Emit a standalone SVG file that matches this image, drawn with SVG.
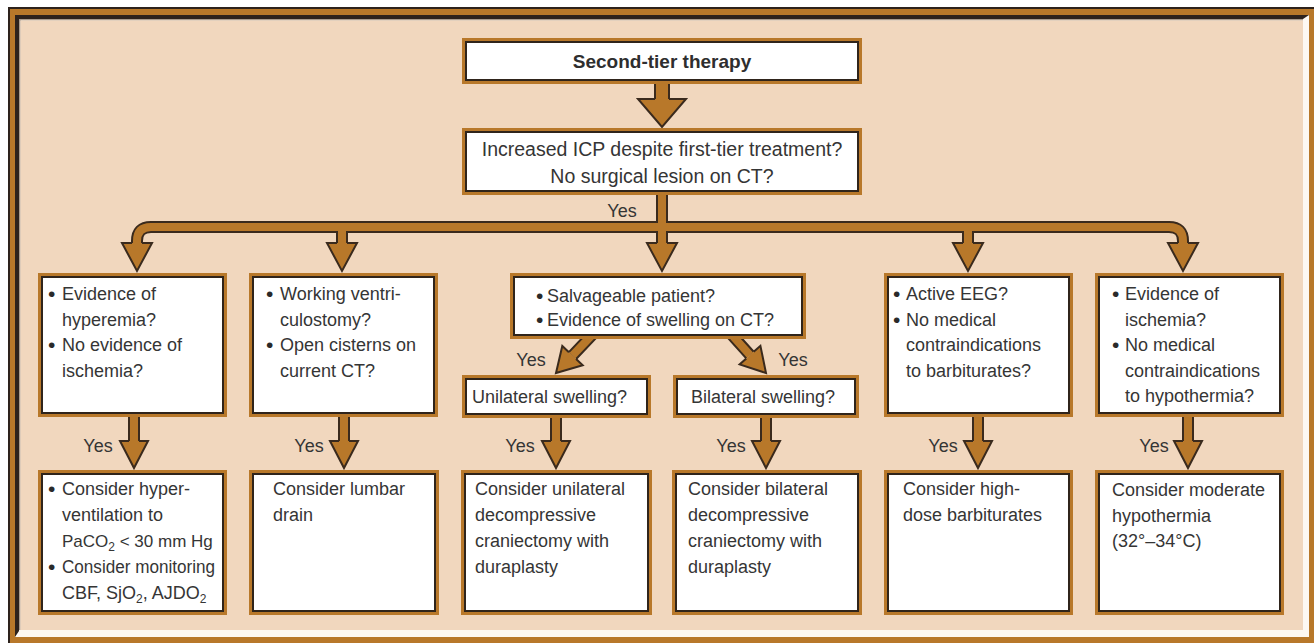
<svg xmlns="http://www.w3.org/2000/svg" width="1314" height="643" viewBox="0 0 1314 643">
<defs>
<style>
.sd{fill:none;stroke:#3a2a1d;stroke-width:12}
.so{fill:none;stroke:#b8782a;stroke-width:8}
.bd{fill:none;stroke:#3a2a1d;stroke-width:16}
.bo2{fill:none;stroke:#b8782a;stroke-width:12}
.hd{fill:#b8782a;stroke:#3a2a1d;stroke-width:2;stroke-linejoin:miter}
.bo{fill:#b8782a}
.bi{fill:#ffffff;stroke:#2f241b;stroke-width:2}
.t{font-family:"Liberation Sans",Arial,sans-serif;font-size:18px;fill:#353535}
.bu{font-family:"Liberation Sans",Arial,sans-serif;font-size:21px;fill:#2a2a2a}
.tb{font-family:"Liberation Sans",Arial,sans-serif;font-size:19px;font-weight:bold;fill:#2e2e2e}
.c{text-anchor:middle}
</style>
</defs>
<!-- frame -->
<rect x="8" y="7" width="1306" height="636" fill="#2d221c"/>
<rect x="10" y="9" width="1304" height="634" fill="#b8782a"/>
<rect x="15" y="15" width="1294" height="622" fill="#fdf8f2"/>
<path d="M15,15 H1309 L1303,19 H19 V631 L15,637 Z" fill="#2d221c"/>
<path d="M19,19.8 H1303 M19.8,19 V630" stroke="#a89a8c" stroke-width="1.6" fill="none"/>
<rect x="20.5" y="20.5" width="1282.5" height="609.5" fill="#f1d7be"/>

<g id="connectors">
<path class="bd" d="M662,80 V100"/>
<path class="bo2" d="M662,80 V100"/>
<path class="hd" d="M655,99 H638 L662,127 L686,99 H669"/>

<path class="sd" d="M137,244 V241 Q137,227 151,227 H1169 Q1183,227 1183,241 V244 M342,227 V244 M662,192 V244 M968,227 V244"/>
<path class="so" d="M137,244 V241 Q137,227 151,227 H1169 Q1183,227 1183,241 V244 M342,227 V244 M662,192 V244 M968,227 V244"/>
<path class="hd" d="M132,243 H122 L137,271 L152,243 H142"/>
<path class="hd" d="M337,243 H327 L342,271 L357,243 H347"/>
<path class="hd" d="M657,243 H647 L662,271 L677,243 H667"/>
<path class="hd" d="M963,243 H953 L968,271 L983,243 H973"/>
<path class="hd" d="M1178,243 H1168 L1183,271 L1198,243 H1188"/>

<path class="sd" d="M595.9,330.9 L572.5,355.6 M727.3,329.8 L750,355.1"/>
<path class="so" d="M595.9,330.9 L572.5,355.6 M727.3,329.8 L750,355.1"/>
<path class="hd" d="M568.9,352.2 L562.3,346 L556,373 L582.7,365.2 L576.1,359"/>
<path class="hd" d="M746.3,358.4 L739.6,364.4 L766,373 L760.4,345.8 L753.7,351.8"/>

<path class="sd" d="M134,410 V442 M344,410 V442 M556,412 V442 M766,412 V442 M978,410 V442 M1188,410 V442"/>
<path class="so" d="M134,410 V442 M344,410 V442 M556,412 V442 M766,412 V442 M978,410 V442 M1188,410 V442"/>
<path class="hd" d="M129,441 H120 L134,468 L148,441 H139"/>
<path class="hd" d="M339,441 H330 L344,468 L358,441 H349"/>
<path class="hd" d="M551,441 H542 L556,468 L570,441 H561"/>
<path class="hd" d="M761,441 H752 L766,468 L780,441 H771"/>
<path class="hd" d="M973,441 H964 L978,468 L992,441 H983"/>
<path class="hd" d="M1183,441 H1174 L1188,468 L1202,441 H1193"/>

<text class="t c" x="622" y="217">Yes</text>
<text class="t c" x="531" y="366">Yes</text>
<text class="t c" x="793" y="366">Yes</text>
<text class="t c" x="98" y="452">Yes</text>
<text class="t c" x="309" y="452">Yes</text>
<text class="t c" x="520" y="452">Yes</text>
<text class="t c" x="731" y="452">Yes</text>
<text class="t c" x="943" y="452">Yes</text>
<text class="t c" x="1154" y="452">Yes</text>
</g>

<g id="n-top">
<rect class="bo" x="462" y="38" width="400" height="46"/>
<rect class="bi" x="466" y="42" width="392" height="38"/>
<text class="tb c" x="662" y="68">Second-tier therapy</text>
</g>

<g id="n-q1">
<rect class="bo" x="462" y="128" width="400" height="67"/>
<rect class="bi" x="466" y="132" width="392" height="59"/>
<text class="t c" x="662" y="156" style="font-size:19.5px">Increased ICP despite first-tier treatment?</text>
<text class="t c" x="662" y="183" style="font-size:19.5px">No surgical lesion on CT?</text>
</g>

<g id="n-hyperemia">
<rect class="bo" x="38" y="273" width="189" height="144"/>
<rect class="bi" x="42" y="277" width="181" height="136"/>
<text class="bu" x="48" y="301">•</text>
<text class="t" x="62" y="300">Evidence of</text>
<text class="t" x="62" y="325.5">hyperemia?</text>
<text class="bu" x="48" y="352">•</text>
<text class="t" x="62" y="351">No evidence of</text>
<text class="t" x="62" y="376.5">ischemia?</text>
</g>

<g id="n-ventric">
<rect class="bo" x="249" y="273" width="189" height="144"/>
<rect class="bi" x="253" y="277" width="181" height="136"/>
<text class="bu" x="266" y="301">•</text>
<text class="t" x="280" y="300">Working ventri-</text>
<text class="t" x="280" y="325.5">culostomy?</text>
<text class="bu" x="266" y="352">•</text>
<text class="t" x="280" y="351">Open cisterns on</text>
<text class="t" x="280" y="376.5">current CT?</text>
</g>

<g id="n-salvage">
<rect class="bo" x="510" y="273" width="296" height="66"/>
<rect class="bi" x="514" y="277" width="288" height="58"/>
<text class="bu" x="536" y="303">•</text>
<text class="t" x="547" y="302">Salvageable patient?</text>
<text class="bu" x="536" y="327">•</text>
<text class="t" x="547" y="326">Evidence of swelling on CT?</text>
</g>

<g id="n-unilateral">
<rect class="bo" x="462" y="375" width="189" height="43"/>
<rect class="bi" x="466" y="379" width="181" height="35"/>
<text class="t" x="472" y="403">Unilateral swelling?</text>
</g>

<g id="n-bilateral">
<rect class="bo" x="673" y="375" width="186" height="43"/>
<rect class="bi" x="677" y="379" width="178" height="35"/>
<text class="t" x="691" y="403">Bilateral swelling?</text>
</g>

<g id="n-eeg">
<rect class="bo" x="884" y="273" width="189" height="144"/>
<rect class="bi" x="888" y="277" width="181" height="136"/>
<text class="bu" x="893" y="301">•</text>
<text class="t" x="906" y="300">Active EEG?</text>
<text class="bu" x="893" y="326.5">•</text>
<text class="t" x="906" y="325.5">No medical</text>
<text class="t" x="906" y="351">contraindications</text>
<text class="t" x="906" y="376.5">to barbiturates?</text>
</g>

<g id="n-ischemia">
<rect class="bo" x="1095" y="273" width="189" height="144"/>
<rect class="bi" x="1099" y="277" width="181" height="136"/>
<text class="bu" x="1112" y="301">•</text>
<text class="t" x="1125" y="300">Evidence of</text>
<text class="t" x="1125" y="325.5">ischemia?</text>
<text class="bu" x="1112" y="352">•</text>
<text class="t" x="1125" y="351">No medical</text>
<text class="t" x="1125" y="376.5">contraindications</text>
<text class="t" x="1125" y="402">to hypothermia?</text>
</g>

<g id="n-hyperventilation">
<rect class="bo" x="38" y="470" width="189" height="145"/>
<rect class="bi" x="42" y="474" width="181" height="137"/>
<text class="bu" x="48" y="496">•</text>
<text class="t" x="62" y="495">Consider hyper-</text>
<text class="t" x="62" y="521">ventilation to</text>
<text class="t" x="62" y="547" style="font-size:17px">PaCO<tspan font-size="12" dy="4">2</tspan><tspan dy="-4"> &lt; 30 mm Hg</tspan></text>
<text class="bu" x="48" y="574">•</text>
<text class="t" x="62" y="573" textLength="153" lengthAdjust="spacingAndGlyphs">Consider monitoring</text>
<text class="t" x="62" y="599">CBF, SjO<tspan font-size="12" dy="4">2</tspan><tspan dy="-4">, AJDO</tspan><tspan font-size="12" dy="4">2</tspan></text>
</g>

<g id="n-lumbar">
<rect class="bo" x="249" y="470" width="190" height="145"/>
<rect class="bi" x="253" y="474" width="182" height="137"/>
<text class="t" x="273" y="495">Consider lumbar</text>
<text class="t" x="273" y="521">drain</text>
</g>

<g id="n-uni-crani">
<rect class="bo" x="461" y="470" width="191" height="145"/>
<rect class="bi" x="465" y="474" width="183" height="137"/>
<text class="t" x="475" y="495">Consider unilateral</text>
<text class="t" x="475" y="521">decompressive</text>
<text class="t" x="475" y="547">craniectomy with</text>
<text class="t" x="475" y="573">duraplasty</text>
</g>

<g id="n-bi-crani">
<rect class="bo" x="672" y="470" width="190" height="145"/>
<rect class="bi" x="676" y="474" width="182" height="137"/>
<text class="t" x="688" y="495">Consider bilateral</text>
<text class="t" x="688" y="521">decompressive</text>
<text class="t" x="688" y="547">craniectomy with</text>
<text class="t" x="688" y="573">duraplasty</text>
</g>

<g id="n-barbiturates">
<rect class="bo" x="884" y="470" width="189" height="145"/>
<rect class="bi" x="888" y="474" width="181" height="137"/>
<text class="t" x="903" y="495">Consider high-</text>
<text class="t" x="903" y="521">dose barbiturates</text>
</g>

<g id="n-hypothermia">
<rect class="bo" x="1095" y="470" width="189" height="145"/>
<rect class="bi" x="1099" y="474" width="181" height="137"/>
<text class="t" x="1112" y="496">Consider moderate</text>
<text class="t" x="1112" y="522">hypothermia</text>
<text class="t" x="1112" y="547">(32°–34°C)</text>
</g>
</svg>
